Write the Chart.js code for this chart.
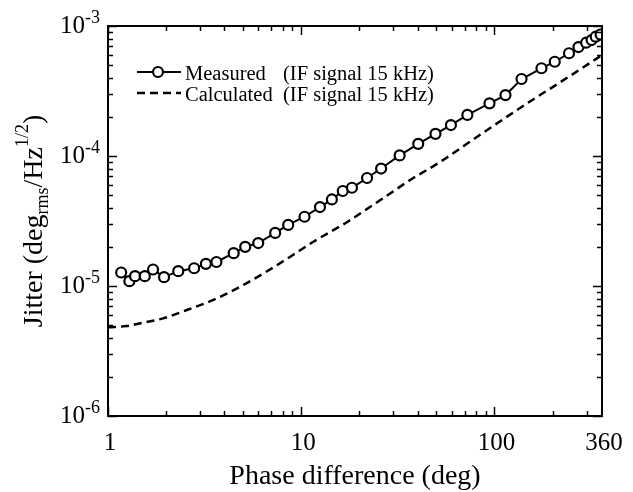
<!DOCTYPE html>
<html lang="en">
<head>
<meta charset="UTF-8">
<title>Jitter vs phase difference</title>
<script src="https://cdn.jsdelivr.net/npm/chart.js"></script>
<style>
  html, body { margin: 0; padding: 0; background: #fff; }
  #wrap { width: 633px; height: 492px; }
</style>
</head>
<body>
<div id="wrap"><canvas id="jitterChart" width="633" height="492"></canvas></div>
<script>
// Measured jitter (IF signal 15 kHz)
const measuredPhase = [1.17, 1.29, 1.38, 1.55, 1.71, 1.95, 2.31, 2.79, 3.21, 3.64,
    4.47, 5.13, 5.99, 7.33, 8.56, 10.4, 12.5, 14.4, 16.4, 18.3,
    21.9, 25.9, 32.3, 40.3, 49.5, 59.5, 72.4, 94.2, 114, 138,
    175, 205, 243, 272, 298, 318, 334, 354];
const measuredJitter = [1.27e-5, 1.09e-5, 1.19e-5, 1.19e-5, 1.34e-5, 1.17e-5, 1.30e-5, 1.37e-5, 1.48e-5, 1.53e-5,
    1.79e-5, 2.00e-5, 2.14e-5, 2.56e-5, 2.95e-5, 3.41e-5, 4.05e-5, 4.63e-5, 5.38e-5, 5.70e-5,
    6.77e-5, 8.01e-5, 1.01e-4, 1.24e-4, 1.48e-4, 1.73e-4, 2.07e-4, 2.54e-4, 2.94e-4, 3.91e-4,
    4.73e-4, 5.31e-4, 6.17e-4, 6.89e-4, 7.44e-4, 7.80e-4, 8.27e-4, 8.60e-4];

// Calculated curve
const calcPhase = [1.0, 1.25, 1.52, 1.93, 2.56, 3.51, 4.83, 6.38, 8.77, 11.5,
    17.3, 26.6, 38.0, 51.3, 86.7, 157, 220, 360];
const calcJitter = [4.81e-6, 4.92e-6, 5.22e-6, 5.64e-6, 6.54e-6, 7.81e-6, 9.88e-6, 1.25e-5, 1.68e-5, 2.18e-5,
    3.11e-5, 4.75e-5, 6.77e-5, 8.83e-5, 1.50e-4, 2.70e-4, 3.71e-4, 5.98e-4];

// axis ticks
const xMajorTicks = [1, 10, 100];
const xMinorTicks = [2, 3, 4, 5, 6, 7, 8, 9, 20, 30, 40, 50, 60, 70, 80, 90, 200, 300];
const xLabelValues = [1, 10, 100, 360];
const xTickLabels = ['1', '10', '100', '360'];
const yTickExponents = [-6, -5, -4, -3];

const legendNames = ['Measured', 'Calculated'];
const legendNote = '(IF signal 15 kHz)';
const xTitle = 'Phase difference (deg)';

const serif = '"Liberation Serif", "DejaVu Serif", serif';

function toPoints(xs, ys) {
    return xs.map((v, i) => ({ x: v, y: ys[i] }));
}

const axesFrame = {
    id: 'axesFrame',
    beforeDraw(chart) {
        const ctx = chart.ctx;
        ctx.save();
        ctx.fillStyle = '#fff';
        ctx.fillRect(0, 0, chart.width, chart.height);
        ctx.restore();
    },
    afterDraw(chart) {
        const { ctx, chartArea: a } = chart;
        const xs = chart.scales.x, ys = chart.scales.y;
        ctx.save();
        ctx.strokeStyle = '#000';
        ctx.fillStyle = '#000';

        // frame
        ctx.lineWidth = 2;
        ctx.strokeRect(a.left, a.top, a.right - a.left, a.bottom - a.top);

        // inward ticks on all four sides
        ctx.lineWidth = 1.5;
        const xTick = (v, len) => {
            const px = Math.round(xs.getPixelForValue(v)) + 0.5;
            ctx.beginPath();
            ctx.moveTo(px, a.bottom); ctx.lineTo(px, a.bottom - len);
            ctx.moveTo(px, a.top); ctx.lineTo(px, a.top + len);
            ctx.stroke();
        };
        const yTick = (v, len) => {
            const py = Math.round(ys.getPixelForValue(v)) + 0.5;
            ctx.beginPath();
            ctx.moveTo(a.left, py); ctx.lineTo(a.left + len, py);
            ctx.moveTo(a.right, py); ctx.lineTo(a.right - len, py);
            ctx.stroke();
        };
        xMajorTicks.forEach(v => xTick(v, 9));
        xMinorTicks.forEach(v => xTick(v, 5));
        yTickExponents.forEach((e, i) => {
            yTick(Math.pow(10, e), 9);
            if (i < yTickExponents.length - 1) {
                for (let m = 2; m <= 9; m++) yTick(m * Math.pow(10, e), 5);
            }
        });

        // x tick labels
        ctx.font = '25px ' + serif;
        ctx.textAlign = 'center';
        ctx.textBaseline = 'alphabetic';
        xLabelValues.forEach((v, i) => {
            ctx.fillText(xTickLabels[i], xs.getPixelForValue(v) + 2, a.bottom + 34);
        });

        // y tick labels 10^n
        yTickExponents.forEach(e => {
            const py = ys.getPixelForValue(Math.pow(10, e));
            ctx.textAlign = 'left';
            ctx.font = '18px ' + serif;
            const ex = '-' + Math.abs(e);
            const exW = ctx.measureText(ex).width;
            const exX = a.left - 8 - exW;
            ctx.fillText(ex, exX, py - 3);
            ctx.font = '25px ' + serif;
            ctx.textAlign = 'right';
            ctx.fillText('10', exX, py + 7);
        });

        // x title
        ctx.font = '28px ' + serif;
        ctx.textAlign = 'center';
        ctx.fillText(xTitle, (a.left + a.right) / 2, 484);

        // y title, rotated, with subscript and superscript
        const parts = [
            { t: 'Jitter (deg', f: 28, dy: 0 },
            { t: 'rms', f: 18, dy: 6 },
            { t: '/Hz', f: 28, dy: 0 },
            { t: '1/2', f: 18, dy: -14 },
            { t: ')', f: 28, dy: 0 }
        ];
        let total = 0;
        parts.forEach(p => { ctx.font = p.f + 'px ' + serif; p.w = ctx.measureText(p.t).width; total += p.w; });
        ctx.translate(42, (a.top + a.bottom) / 2);
        ctx.rotate(-Math.PI / 2);
        ctx.textAlign = 'left';
        let cx = -total / 2;
        parts.forEach(p => {
            ctx.font = p.f + 'px ' + serif;
            ctx.fillText(p.t, cx, p.dy);
            cx += p.w;
        });
        ctx.restore();

        // legend inside the plot area
        ctx.save();
        const ds = chart.data.datasets;
        const rows = [72, 93];
        ds.forEach((d, i) => {
            const ly = rows[i];
            ctx.strokeStyle = d.borderColor;
            ctx.lineWidth = d.borderWidth;
            ctx.setLineDash(d.borderDash || []);
            ctx.beginPath();
            ctx.moveTo(137, ly); ctx.lineTo(181, ly);
            ctx.stroke();
            ctx.setLineDash([]);
            if (d.pointRadius > 0) {
                ctx.beginPath();
                ctx.arc(158, ly, d.pointRadius, 0, Math.PI * 2);
                ctx.fillStyle = d.pointBackgroundColor;
                ctx.fill();
                ctx.lineWidth = d.pointBorderWidth;
                ctx.stroke();
            }
            ctx.fillStyle = '#000';
            ctx.font = '20.5px ' + serif;
            ctx.textAlign = 'left';
            ctx.textBaseline = 'alphabetic';
            ctx.fillText(legendNames[i], 185, ly + 8);
            ctx.fillText(legendNote, 283, ly + 8);
        });
        ctx.restore();
    }
};

new Chart(document.getElementById('jitterChart'), {
    type: 'scatter',
    data: {
        datasets: [
            {
                label: 'Measured (IF signal 15 kHz)',
                data: toPoints(measuredPhase, measuredJitter),
                showLine: true,
                borderColor: '#000',
                borderWidth: 2,
                pointRadius: 5,
                pointBorderWidth: 2.2,
                pointBorderColor: '#000',
                pointBackgroundColor: '#fff',
                tension: 0
            },
            {
                label: 'Calculated (IF signal 15 kHz)',
                data: toPoints(calcPhase, calcJitter),
                showLine: true,
                borderColor: '#000',
                borderWidth: 2.5,
                borderDash: [8, 5],
                pointRadius: 0,
                cubicInterpolationMode: 'monotone'
            }
        ]
    },
    options: {
        responsive: false,
        animation: false,
        devicePixelRatio: 1,
        layout: { padding: { top: 26, right: 31, left: 0, bottom: 0 } },
        plugins: {
            legend: { display: false },
            tooltip: { enabled: false }
        },
        scales: {
            x: {
                type: 'logarithmic',
                min: 1,
                max: 360,
                grid: { display: false },
                border: { display: false },
                ticks: { display: false },
                afterFit(scale) { scale.height = 76; }
            },
            y: {
                type: 'logarithmic',
                min: 1e-6,
                max: 1e-3,
                grid: { display: false },
                border: { display: false },
                ticks: { display: false },
                afterFit(scale) { scale.width = 108; }
            }
        }
    },
    plugins: [axesFrame]
});
</script>
</body>
</html>
